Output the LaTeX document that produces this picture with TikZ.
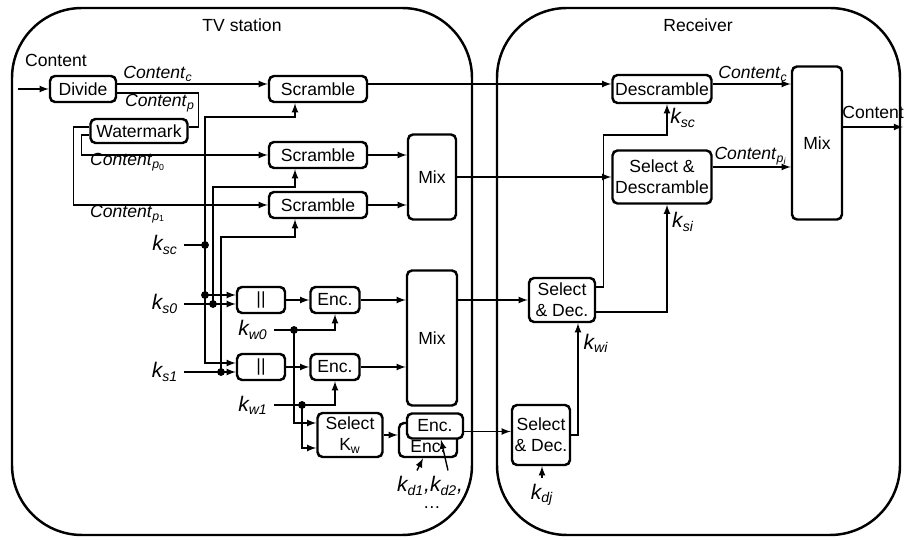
\documentclass[tikz,border=0pt]{standalone}
\usepackage{fontspec}
\setmainfont{Liberation Sans}
\newcommand{\keylab}[1]{{\large\textit{k\textsubscript{#1}}}}
\newcommand{\contlab}[1]{\textit{Content}\textsubscript{\textit{#1}}}

\begin{document}
\begin{tikzpicture}[x=0.02cm,y=-0.02cm,
  blk/.style={draw,rounded corners=0.1cm,line width=1.4pt,inner sep=1pt,align=center,fill=white},
  flow/.style={arrows=-latex,line width=0.8pt},
  wire/.style={line width=0.8pt},
  site/.style={line width=1.4pt,rounded corners=1.4cm}]
\useasboundingbox (0,0) rectangle (904,540);

% the two sites
\draw[site] (12,8) rectangle (472,535);
\draw[site] (497,8) rectangle (900,535);
\node (tv) at (242,25) {TV station};
\node (rx) at (698,25) {Receiver};

% TV station blocks
\node[blk,minimum width=1.32cm,minimum height=0.52cm] (divide) at (83,89) {Divide};
\node[blk,minimum width=1.94cm,minimum height=0.48cm] (watermark) at (139,131) {Watermark};
\node[blk,minimum width=1.96cm,minimum height=0.52cm] (scr1) at (318,89) {Scramble};
\node[blk,minimum width=1.96cm,minimum height=0.52cm] (scr2) at (318,155) {Scramble};
\node[blk,minimum width=1.96cm,minimum height=0.52cm] (scr3) at (318,205) {Scramble};
\node[blk,minimum width=0.96cm,minimum height=1.7cm] (mixA) at (432,177) {Mix};
\node[blk,minimum width=0.96cm,minimum height=0.52cm] (cat0) at (261,300) {||};
\node[blk,minimum width=0.96cm,minimum height=0.52cm] (cat1) at (261,367) {||};
\node[blk,minimum width=0.98cm,minimum height=0.52cm] (enc0) at (335,300) {Enc.};
\node[blk,minimum width=0.98cm,minimum height=0.52cm] (enc1) at (335,367) {Enc.};
\node[blk,minimum width=1.0cm,minimum height=2.7cm] (mixB) at (432,338) {Mix};
\node[blk,minimum width=1.3cm,minimum height=0.88cm] (selkw) at (350,435) {Select\\K\textsubscript{w}};
\node[blk,minimum width=1.16cm,minimum height=0.68cm,text height=0.5cm] (encB) at (428,440) {Enc.};
\node[blk,minimum width=1.12cm,minimum height=0.5cm] (encF) at (435,426) {Enc.};

% receiver blocks
\node[blk,minimum width=1.98cm,minimum height=0.56cm] (desc) at (662,89) {Descramble};
\node[blk,minimum width=1.98cm,minimum height=1.06cm] (seldesc) at (662,177) {Select \&\\Descramble};
\node[blk,minimum width=1.0cm,minimum height=3.06cm] (mixR) at (817,143) {Mix};
\node[blk,minimum width=1.32cm,minimum height=0.88cm] (seldec1) at (562,300) {Select\\\& Dec.};
\node[blk,minimum width=1.16cm,minimum height=1.2cm] (seldec2) at (541,435) {Select\\\& Dec.};

% labels
\node (lin) at (56,60) {Content};
\node (lcc) at (158,74) {\contlab{c}};
\node (lcp) at (160,103) {\contlab{p}};
\node (lcp0) at (128,162) {\textit{Content}\textsubscript{\textit{p}\textsubscript{0}}};
\node (lcp1) at (128,214) {\textit{Content}\textsubscript{\textit{p}\textsubscript{1}}};
\node (lksc) at (165,245) {\keylab{sc}};
\node (lks0) at (165,304) {\keylab{s0}};
\node (lks1) at (165,372) {\keylab{s1}};
\node (lkw0) at (253,330) {\keylab{w0}};
\node (lkw1) at (253,405) {\keylab{w1}};
\node (lkd) at (430,486) {{\large\textit{k\textsubscript{d1},k\textsubscript{d2},}}};
\node[inner sep=1pt] (ldots) at (432,508) {\dots};
\node (lcr) at (753,74) {\contlab{c}};
\node (lcpi) at (751,156) {\textit{Content}\textsubscript{\textit{p}\textsubscript{\textit{i}}}};
\node[anchor=west,inner sep=0pt] (lout) at (842,112) {Content};
\node (lksc2) at (683,118) {\keylab{sc}};
\node (lksi) at (683,222) {\keylab{si}};
\node (lkwi) at (596,343) {\keylab{wi}};
\node (lkdj) at (542,495) {\keylab{dj}};

\coordinate (jsc) at (205,245);
\coordinate (ja0) at (205,295);
\coordinate (jb0) at (213,304);
\coordinate (jb1) at (221,372);
\coordinate (jw0) at (294,330);
\coordinate (jw1) at (302,405);
\coordinate (cin) at (18,89);
\coordinate (cout) at (903,127);

% content path
\draw[flow] (cin) -- (divide.west);
\draw[flow] ([yshift=0.1cm]divide.east) -- ([yshift=0.1cm]scr1.west);
\draw[wire] ([yshift=-0.08cm]divide.east) -| ([xshift=0.2cm,yshift=0.08cm]watermark.east) -- ([yshift=0.08cm]watermark.east);
\draw[flow] ([yshift=-0.08cm]watermark.west) -- ++(-8,0) |- (scr2.west);
\draw[flow] ([yshift=0.08cm]watermark.west) -- ++(-16,0) |- (scr3.west);
\draw[flow] (scr2.east) -- (scr2.east -| mixA.west);
\draw[flow] (scr3.east) -- (scr3.east -| mixA.west);
\draw[flow] ([yshift=0.1cm]scr1.east) -- ([yshift=0.1cm]desc.west);
\draw[flow] (mixA.east) -- (seldesc.west);

% keys
\draw[wire] (lksc.east |- jsc) -- (jsc);
\draw[flow] (jsc) -- ++(0,-128) -| ([xshift=-0.46cm]scr1.south);
\draw[wire] (jsc) -- (ja0);
\draw[flow] (ja0) -- (ja0 -| cat0.west);
\draw[flow] (ja0) |- ([yshift=0.08cm]cat1.west);
\draw[flow] (lks0.east |- jb0) -- (jb0 -| cat0.west);
\draw[flow] (jb0) -- ++(0,-117) -| ([xshift=-0.46cm]scr2.south);
\draw[flow] (lks1.east |- jb1) -- (jb1 -| cat1.west);
\draw[flow] (jb1) -- ++(0,-135) -| ([xshift=-0.46cm]scr3.south);
\draw[flow] (cat0) -- (enc0);
\draw[flow] (cat1) -- (enc1);
\draw[flow] (enc0.east) -- (enc0.east -| mixB.west);
\draw[flow] (enc1.east) -- (enc1.east -| mixB.west);
\draw[flow] (lkw0.east |- jw0) -| (enc0.south);
\draw[flow] (lkw1.east |- jw1) -| (enc1.south);
\draw[flow] (jw0) |- ([yshift=0.24cm]selkw.west);
\draw[flow] (jw1) |- ([yshift=-0.26cm]selkw.west);
\draw[flow] (selkw.east) -- (selkw.east -| encB.west);
\draw[flow] ([yshift=-0.11cm]encF.east) -- ([yshift=-0.11cm]encF.east -| seldec2.west);
\draw[flow] ([xshift=-0.26cm]lkd.north) -- ([xshift=-0.1cm]encB.south);
\draw[flow] ([xshift=0.36cm]lkd.north) -- ([xshift=0.12cm]encF.south);
\draw[flow] (mixB.east |- seldec1) -- (seldec1.west);

% receiver
\draw[flow] ([yshift=0.26cm]seldec1.east) -- ++(7,0) -- ++(0,-152) -| ([xshift=0.1cm]desc.south);
\draw[flow] ([yshift=-0.24cm]seldec1.east) -| ([xshift=0.1cm]seldesc.south);
\draw[flow] (seldec2.east) -| ([xshift=0.32cm]seldec1.south);
\draw[flow] (lkdj.north) -- (lkdj.north |- seldec2.south);
\draw[flow] ([yshift=0.1cm]desc.east) -- ([yshift=0.1cm]desc.east -| mixR.west);
\draw[flow] ([yshift=0.2cm]seldesc.east) -- ([yshift=0.2cm]seldesc.east -| mixR.west);
\draw[flow] (mixR.east |- cout) -- (cout);

\foreach \j in {jsc,ja0,jb0,jb1,jw0,jw1}
  \draw[fill=black] (\j) circle[radius=2pt];
\end{tikzpicture}
\end{document}
